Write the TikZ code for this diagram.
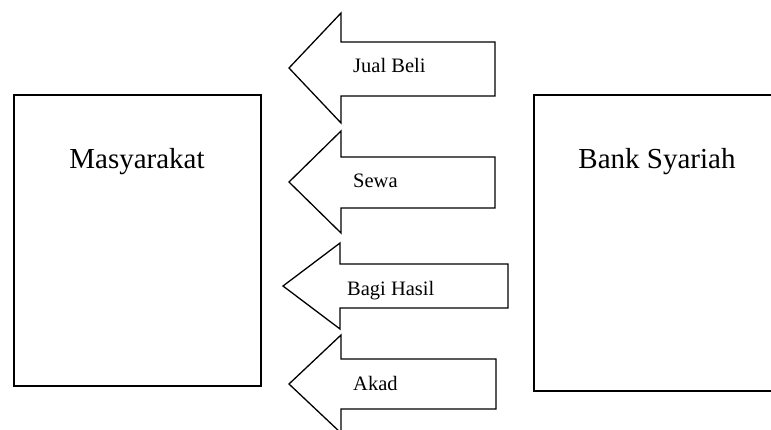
\documentclass[tikz,border=0pt]{standalone}
\usepackage{fontspec}
\setmainfont{Liberation Serif}
\usetikzlibrary{positioning}

\tikzset{
  box/.style={rectangle, draw, line width=1.4pt, inner sep=0pt},
  bigtext/.style={font=\fontsize{29}{34}\selectfont, anchor=base},
  flow/.style={draw, line width=1.3pt, line join=miter},
  flowtext/.style={font=\fontsize{20.5}{24}\selectfont, anchor=base west, inner sep=0pt}
}

\begin{document}
\begin{tikzpicture}[x=1pt, y=-1pt]
\clip (0,0) rectangle (771,429);

\node (masy)[box, minimum width=247pt, minimum height=291pt] at (137.5, 240.5) {};
\node (masytext)[bigtext] at (137, 168) {Masyarakat};

\node (bank)[box, minimum width=243pt, minimum height=296pt] at (655.5, 243) {};
\node (banktext)[bigtext] at (657, 168) {Bank Syariah};

% arrows from bank to masyarakat
\draw[flow] (289,68) -- (341,13) -- (341,42) -- (495,42) -- (495,96) -- (341,96) -- (341,123) -- cycle;
\node (jual)[flowtext] at (353, 72) {Jual Beli};

\draw[flow] (289,182) -- (341,131) -- (341,157) -- (495,157) -- (495,208) -- (341,208) -- (341,233) -- cycle;
\node (sewa)[flowtext] at (353, 187) {Sewa};

\draw[flow] (283,286) -- (340,243) -- (340,264) -- (508,264) -- (508,308) -- (340,308) -- (340,329) -- cycle;
\node (bagi)[flowtext] at (347, 295.5) {Bagi Hasil};

\draw[flow] (289,384) -- (341,335) -- (341,359) -- (496,359) -- (496,409) -- (341,409) -- (341,433) -- cycle;
\node (akad)[flowtext] at (353, 390) {Akad};
\end{tikzpicture}
\end{document}
